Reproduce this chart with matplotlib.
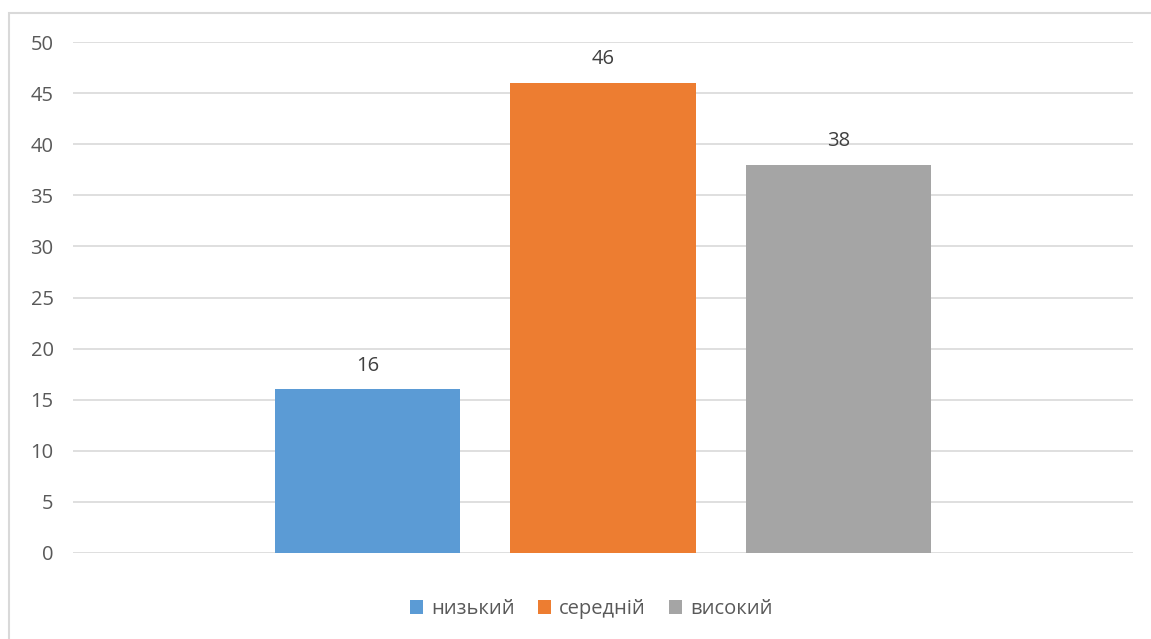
import matplotlib.pyplot as plt
from matplotlib.patches import Rectangle

plt.rcParams['font.family'] = ['Open Sans', 'DejaVu Sans']

series = ["низький", "середній", "високий"]
values = [16, 46, 38]
colors = ["#5B9BD5", "#ED7D31", "#A5A5A5"]
yticks = [0, 5, 10, 15, 20, 25, 30, 35, 40, 45, 50]

W, H = 1151, 639
fig = plt.figure(figsize=(W / 100, H / 100), dpi=100)

# chart-area border (Excel style)
fig.patches.append(Rectangle((9 / W, -0.1), 1.2, (H - 13) / H + 0.1,
                             transform=fig.transFigure, fill=False,
                             edgecolor="#D9D9D9", linewidth=1.5))

ax = fig.add_axes([73 / W, (H - 553) / H, (1133 - 73) / W, (553 - 42) / H])

offsets = [-0.222, 0.0, 0.222]
bw = 0.175
for name, v, c, off in zip(series, values, colors, offsets):
    ax.bar(off, v, width=bw, color=c, label=name, zorder=3)
    ax.annotate(str(v), (off, v), xytext=(0, 10), textcoords="offset points",
                ha="center", va="bottom", fontsize=14.5, color="#404040")

ax.set_xlim(-0.5, 0.5)
ax.set_ylim(0, 50)
ax.set_yticks(yticks)
ax.set_xticks([])
ax.yaxis.grid(True, color="#D9D9D9", linewidth=1.2, zorder=0)
for s in ax.spines.values():
    s.set_visible(False)
ax.tick_params(axis="y", length=0, pad=14, labelsize=14.5, labelcolor="#595959")

leg = ax.legend(loc="center",
                bbox_to_anchor=(0.5 - 12 / 1060, (553 - 609) / (553 - 42)),
                ncol=3, frameon=False, fontsize=14.5, handlelength=0.65,
                handleheight=0.65, handletextpad=0.4, columnspacing=1.15)
for t in leg.get_texts():
    t.set_color("#595959")

fig.savefig("out.png", dpi=100)
